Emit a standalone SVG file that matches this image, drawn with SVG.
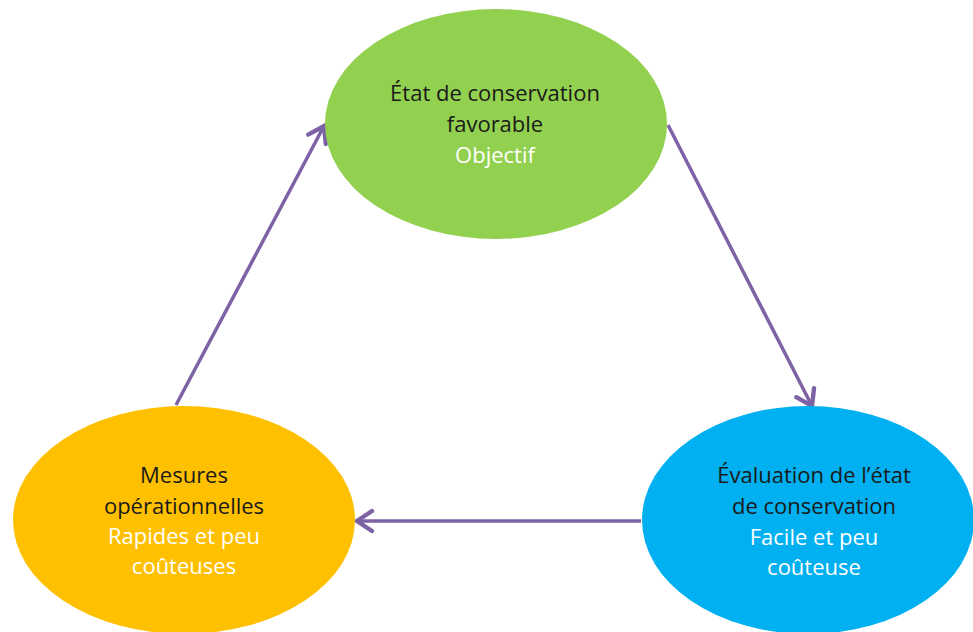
<svg xmlns="http://www.w3.org/2000/svg" width="973" height="632" viewBox="0 0 973 632">
  <defs>
    <marker id="arrow" markerUnits="userSpaceOnUse" markerWidth="30" markerHeight="30" refX="0" refY="0" viewBox="-16 -12 20 24" orient="auto" overflow="visible">
      <path d="M -12 -8 L 0 0 L -12 8" fill="none" stroke="#7E62A6" stroke-width="3.5" stroke-linecap="round" stroke-linejoin="miter"/>
    </marker>
    <style>
      .lbl { font-family: "Open Sans", "Liberation Sans", sans-serif; font-size: 22px; text-anchor: middle; }
      .dark { fill: #1a1a1a; }
      .light { fill: #ffffff; }
      .conn { stroke: #7E62A6; stroke-width: 3.5; fill: none; marker-end: url(#arrow); }
    </style>
  </defs>
  <rect width="973" height="632" fill="#ffffff"/>
  <g id="connectors">
    <line class="conn" x1="176" y1="405" x2="324" y2="126"/>
    <line class="conn" x1="668" y1="125" x2="812" y2="406"/>
    <line class="conn" x1="641" y1="521" x2="357" y2="521"/>
  </g>
  <g id="node-etat">
    <ellipse cx="496" cy="124" rx="171" ry="115" fill="#92D050"/>
    <text class="lbl dark" x="495" y="101">État de conservation</text>
    <text class="lbl dark" x="495" y="132">favorable</text>
    <text class="lbl light" x="495" y="163">Objectif</text>
  </g>
  <g id="node-mesures">
    <ellipse cx="184" cy="520" rx="171" ry="114" fill="#FFC000"/>
    <text class="lbl dark" x="184" y="483">Mesures</text>
    <text class="lbl dark" x="184" y="514">opérationnelles</text>
    <text class="lbl light" x="184" y="544">Rapides et peu</text>
    <text class="lbl light" x="184" y="574">coûteuses</text>
  </g>
  <g id="node-evaluation">
    <ellipse cx="808" cy="520" rx="166" ry="114" fill="#00B0F0"/>
    <text class="lbl dark" x="814" y="483">Évaluation de l’état</text>
    <text class="lbl dark" x="814" y="514">de conservation</text>
    <text class="lbl light" x="814" y="545">Facile et peu</text>
    <text class="lbl light" x="814" y="575">coûteuse</text>
  </g>
</svg>
